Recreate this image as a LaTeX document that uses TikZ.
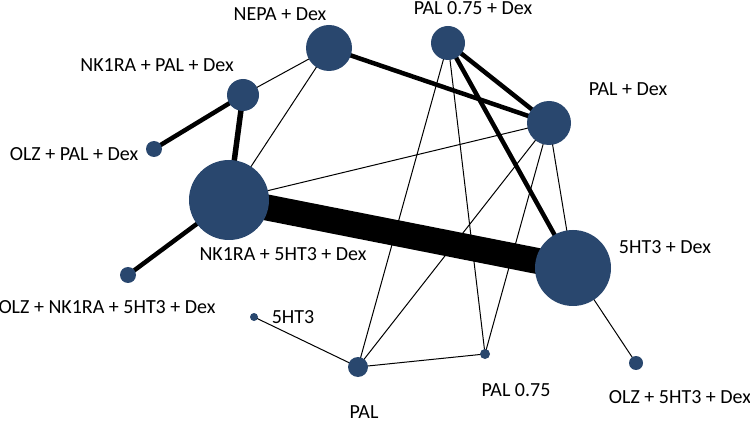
\documentclass[tikz,border=0pt]{standalone}
\usepackage{fontspec}
\setmainfont{Carlito}
\usetikzlibrary{backgrounds}
\definecolor{trtblue}{RGB}{41,71,110}

\begin{document}
\begin{tikzpicture}[x=1pt, y=-1pt,
    trt/.style={circle, fill=trtblue, inner sep=0pt, minimum size=#1},
    lbl/.style={font=\fontsize{20}{24}\selectfont, inner sep=0pt},
    few/.style={line width=1pt},
    more/.style={line width=4.5pt},
    most/.style={line width=26pt}]
    \useasboundingbox (0,0) rectangle (750,422);

    % Treatments
    \node[trt=46pt] (nepa)    at (329,48)  {};
    \node[trt=34pt] (pal75dex) at (448,43) {};
    \node[trt=32pt] (nkpal)   at (243,95)  {};
    \node[trt=44pt] (paldex)  at (549,123) {};
    \node[trt=16pt] (olzpal)  at (154,149) {};
    \node[trt=80pt] (nkht)    at (229,200) {};
    \node[trt=76pt] (htdex)   at (573,268) {};
    \node[trt=16pt] (olznk)   at (128,275) {};
    \node[trt=8pt]  (ht)      at (254,317) {};
    \node[trt=20pt] (pal)     at (358,367) {};
    \node[trt=10pt] (pal75)   at (485,354) {};
    \node[trt=14pt] (olzht)   at (636,363) {};

    % Labels
    \node[lbl] (nepa-l)     at (280,14)  {NEPA + Dex};
    \node[lbl] (pal75dex-l) at (473,8)   {PAL 0.75 + Dex};
    \node[lbl] (nkpal-l)    at (157,65)  {NK1RA + PAL + Dex};
    \node[lbl] (paldex-l)   at (628,89)  {PAL + Dex};
    \node[lbl] (olzpal-l)   at (74,154)  {OLZ + PAL + Dex};
    \node[lbl] (nkht-l)     at (283,254) {NK1RA + 5HT3 + Dex};
    \node[lbl] (htdex-l)    at (665,247) {5HT3 + Dex};
    \node[lbl] (olznk-l)    at (107,307) {OLZ + NK1RA + 5HT3 + Dex};
    \node[lbl] (ht-l)       at (293,317) {5HT3};
    \node[lbl] (pal-l)      at (364,412) {PAL};
    \node[lbl] (pal75-l)    at (516,390) {PAL 0.75};
    \node[lbl] (olzht-l)    at (680,397) {OLZ + 5HT3 + Dex};

    % Comparisons
    \begin{pgfonlayer}{background}
        \draw[most] (nkht.center) -- (htdex.center);
        \draw[more] (nepa.center) -- (paldex.center);
        \draw[more] (pal75dex.center) -- (paldex.center);
        \draw[more] (pal75dex.center) -- (htdex.center);
        \draw[more] (nkpal.center) -- (olzpal.center);
        \draw[line width=5.5pt] (nkpal.center) -- (nkht.center);
        \draw[more] (nkht.center) -- (olznk.center);
        \draw[few] (nepa.center) -- (nkpal.center);
        \draw[few] (nepa.center) -- (nkht.center);
        \draw[few] (paldex.center) -- (nkht.center);
        \draw[few] (pal75dex.center) -- (pal.center);
        \draw[few] (pal75dex.center) -- (pal75.center);
        \draw[few] (paldex.center) -- (pal.center);
        \draw[few] (paldex.center) -- (pal75.center);
        \draw[few] (paldex.center) -- (htdex.center);
        \draw[few] (htdex.center) -- (olzht.center);
        \draw[few] (ht.center) -- (pal.center);
        \draw[few] (pal.center) -- (pal75.center);
    \end{pgfonlayer}
\end{tikzpicture}
\end{document}
